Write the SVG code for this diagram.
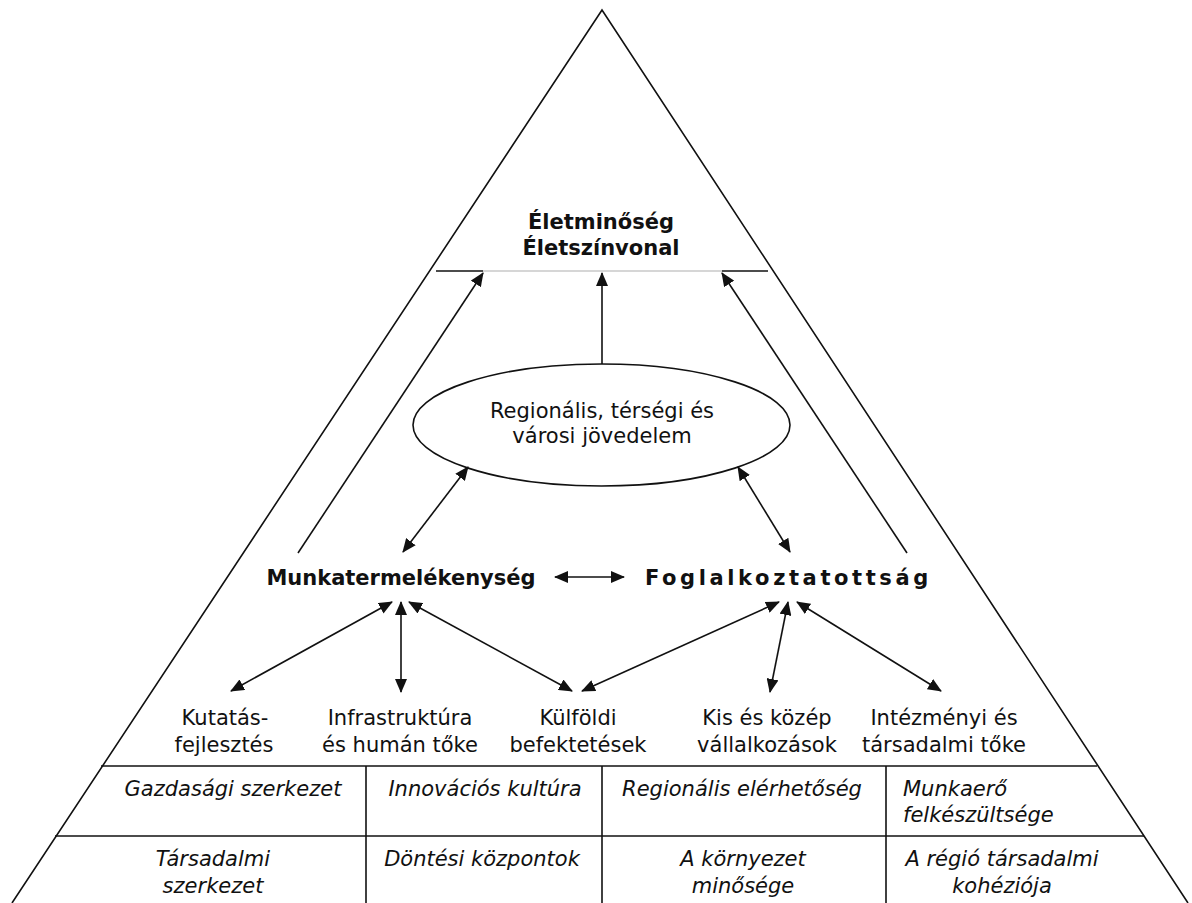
<svg xmlns="http://www.w3.org/2000/svg" width="1192" height="903" viewBox="0 0 1192 903">
<style>
.ln{fill:none;stroke:#111;stroke-width:1.6}
.t{font-family:"DejaVu Sans","Verdana",sans-serif;font-size:21px;fill:#111;text-anchor:middle}
.b{font-weight:bold}
.i{font-style:italic}
.ar{fill:none;stroke:#111;stroke-width:1.6;marker-end:url(#ah)}
.dar{fill:none;stroke:#111;stroke-width:1.6;marker-start:url(#ah);marker-end:url(#ah)}
</style>
<defs>
<marker id="ah" viewBox="0 0 14 12" refX="13" refY="6" markerWidth="14" markerHeight="12" markerUnits="userSpaceOnUse" orient="auto-start-reverse">
<path d="M0,0 L14,6 L0,12 z" fill="#111"/>
</marker>
</defs>
<rect width="1192" height="903" fill="#fff"/>
<g id="frame">
<path class="ln" d="M12,903 L602,10 L1188,903"/>
<line class="ln" x1="101" y1="766" x2="1097" y2="766"/>
<line class="ln" x1="55" y1="836" x2="1144" y2="836"/>
<line class="ln" x1="366" y1="766" x2="366" y2="903"/>
<line class="ln" x1="602" y1="766" x2="602" y2="903"/>
<line class="ln" x1="886" y1="766" x2="886" y2="903"/>
<line x1="483" y1="271" x2="722" y2="271" stroke="#c8c8c8" stroke-width="1.4"/>
<line class="ln" x1="436" y1="271" x2="483" y2="271"/>
<line class="ln" x1="722" y1="271" x2="768" y2="271"/>
</g>
<g id="node-eletminoseg">
<text class="t b" x="601" y="229">Életminőség</text>
<text class="t b" x="601" y="255">Életszínvonal</text>
</g>
<g id="node-jovedelem">
<ellipse cx="601.5" cy="425" rx="188.5" ry="61" class="ln"/>
<text class="t" x="602" y="418">Regionális, térségi és</text>
<text class="t" x="602" y="443">városi jövedelem</text>
</g>
<g id="node-munkatermelekenyseg">
<text class="t b" x="401" y="585">Munkatermelékenység</text>
</g>
<g id="node-foglalkoztatottsag">
<text class="t b" x="645" y="585" style="text-anchor:start;letter-spacing:3.6px">Foglalkoztatottság</text>
</g>
<g id="node-kutatas">
<text class="t" x="225" y="725">Kutatás-</text>
<text class="t" x="224" y="752">fejlesztés</text>
</g>
<g id="node-infrastruktura">
<text class="t" x="400" y="725">Infrastruktúra</text>
<text class="t" x="400" y="752">és humán tőke</text>
</g>
<g id="node-kulfoldi">
<text class="t" x="578" y="725">Külföldi</text>
<text class="t" x="578" y="752">befektetések</text>
</g>
<g id="node-kkv">
<text class="t" x="767" y="725">Kis és közép</text>
<text class="t" x="767" y="752">vállalkozások</text>
</g>
<g id="node-intezmenyi">
<text class="t" x="944" y="725">Intézményi és</text>
<text class="t" x="944" y="752">társadalmi tőke</text>
</g>
<g id="table">
<text class="t i" x="233" y="796">Gazdasági szerkezet</text>
<text class="t i" x="485" y="796">Innovációs kultúra</text>
<text class="t i" x="742" y="796">Regionális elérhetőség</text>
<text class="t i" x="903" y="796" style="text-anchor:start">Munkaerő</text>
<text class="t i" x="903" y="822" style="text-anchor:start">felkészültsége</text>
<text class="t i" x="213" y="866">Társadalmi</text>
<text class="t i" x="213" y="893">szerkezet</text>
<text class="t i" x="482" y="866">Döntési központok</text>
<text class="t i" x="743" y="866">A környezet</text>
<text class="t i" x="743" y="893">minősége</text>
<text class="t i" x="1002" y="866">A régió társadalmi</text>
<text class="t i" x="1002" y="893">kohéziója</text>
</g>
<g id="connectors">
<line class="ar" x1="298" y1="553" x2="483" y2="273"/>
<line class="ar" x1="602" y1="364" x2="602" y2="273"/>
<line class="ar" x1="907" y1="553" x2="722" y2="273"/>
<line class="dar" x1="403" y1="552" x2="468" y2="467"/>
<line class="dar" x1="790" y1="552" x2="738" y2="467"/>
<line class="dar" x1="555" y1="577" x2="624" y2="577"/>
<line class="dar" x1="392" y1="602" x2="231" y2="691"/>
<line class="dar" x1="401" y1="602" x2="401" y2="692"/>
<line class="dar" x1="409" y1="602" x2="572" y2="691"/>
<line class="dar" x1="779" y1="602" x2="582" y2="691"/>
<line class="dar" x1="788" y1="602" x2="770" y2="692"/>
<line class="dar" x1="797" y1="602" x2="941" y2="691"/>
</g>
</svg>
